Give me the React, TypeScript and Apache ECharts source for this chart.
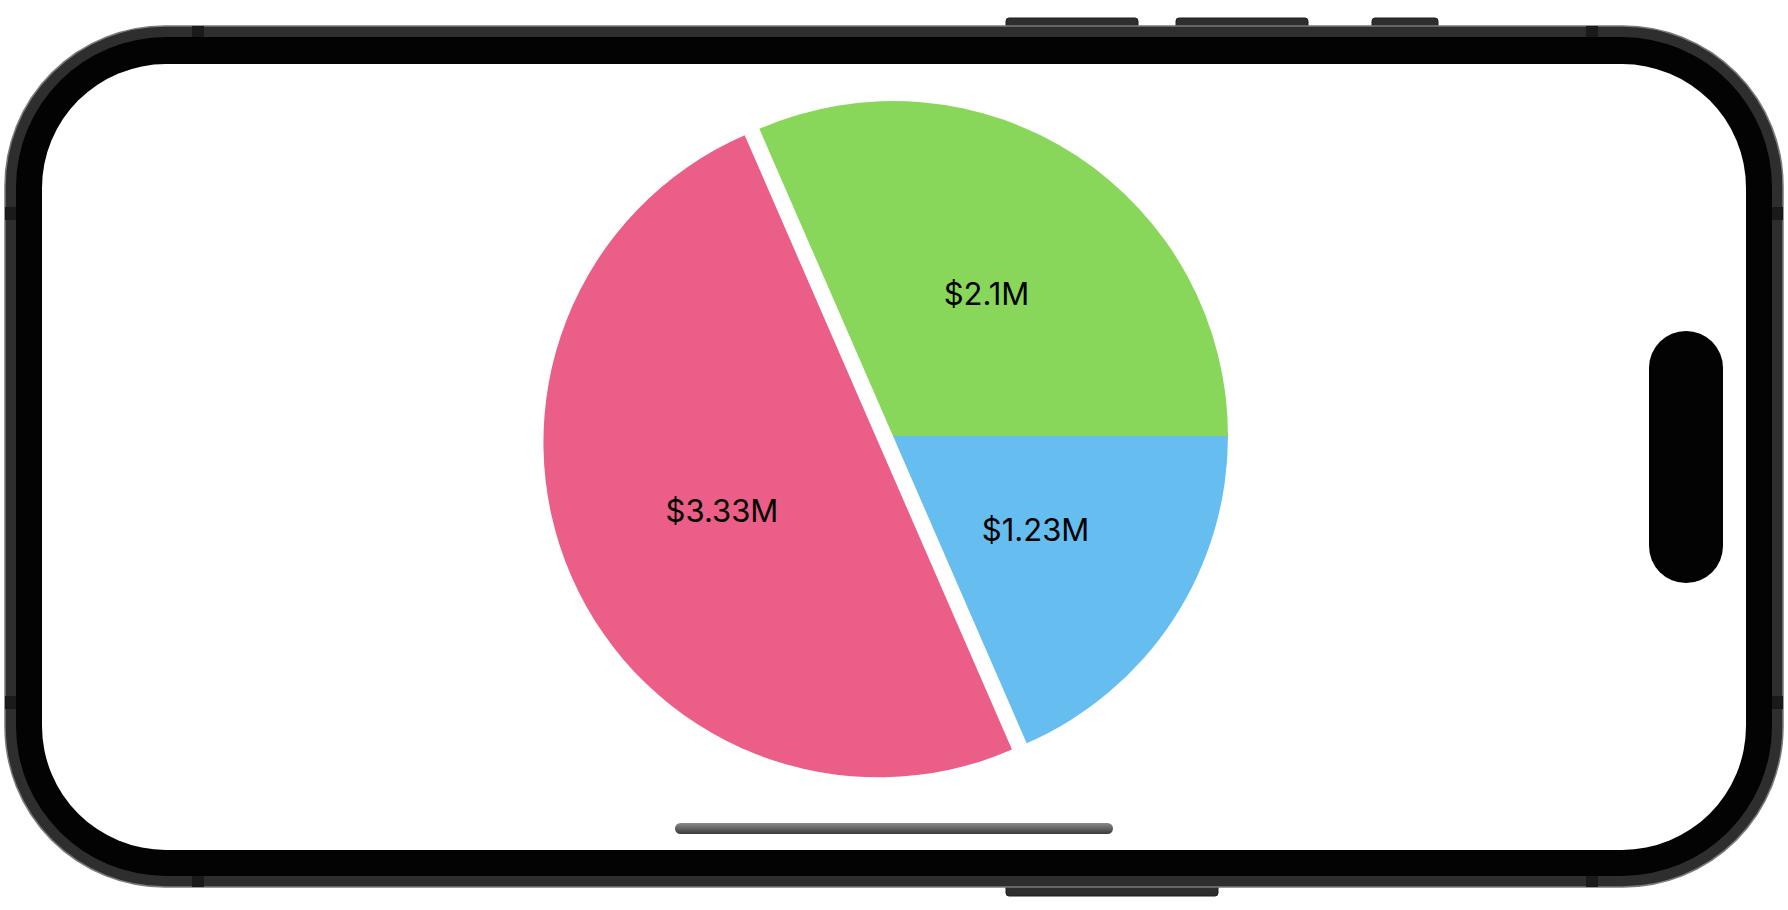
import React, { useEffect, useRef } from "react";
import * as echarts from "echarts";

const categories = ["Green", "Pink", "Blue"];
const values = [2.1, 3.33, 1.23];
const colors = ["#88D75A", "#EB5E87", "#66BDEF"];
const exploded = [false, true, false];

const W = 1788;
const H = 910;

function frameGraphics() {
  const dark = "#2e2e2e";
  const band = "#1a1a1a";
  const els: any[] = [];
  // buttons
  const topButtons = [
    [1006, 1138],
    [1176, 1308],
    [1372, 1438],
  ];
  topButtons.forEach(([a, b]) =>
    els.push({ type: "rect", z: 0, shape: { x: a, y: 18, width: b - a, height: 10, r: [3, 3, 0, 0] }, style: { fill: dark, stroke: "#1f1f1f", lineWidth: 1 } })
  );
  els.push({ type: "rect", z: 0, shape: { x: 1006, y: 884, width: 212, height: 12, r: [0, 0, 3, 3] }, style: { fill: dark, stroke: "#1f1f1f", lineWidth: 1 } });
  // outer body
  els.push({ type: "rect", z: 1, shape: { x: 5, y: 26, width: 1778, height: 861, r: 160 }, style: { fill: dark, stroke: "#7a7a7a", lineWidth: 1.5 } });
  // antenna bands
  const bands = [
    [192, 26, 12, 11],
    [1586, 26, 12, 11],
    [192, 876, 12, 11],
    [1586, 876, 12, 11],
    [5, 207, 11, 13],
    [5, 696, 11, 13],
    [1772, 207, 11, 13],
    [1772, 696, 11, 13],
  ];
  bands.forEach(([x, y, w, h]) => els.push({ type: "rect", z: 2, shape: { x, y, width: w, height: h }, style: { fill: band } }));
  // bezel
  els.push({ type: "rect", z: 3, shape: { x: 16, y: 37, width: 1756, height: 839, r: 150 }, style: { fill: "#030303" } });
  // screen
  els.push({ type: "rect", z: 4, shape: { x: 42, y: 64, width: 1704, height: 786, r: 124 }, style: { fill: "#ffffff" } });
  // dynamic island
  els.push({ type: "rect", z: 5, shape: { x: 1649, y: 331, width: 74, height: 252, r: 37 }, style: { fill: "#030303" } });
  // home indicator
  els.push({
    type: "rect",
    z: 5,
    shape: { x: 675, y: 823, width: 438, height: 11, r: 5.5 },
    style: {
      fill: new echarts.graphic.LinearGradient(0, 0, 0, 1, [
        { offset: 0, color: "#8a8a8a" },
        { offset: 0.4, color: "#6a6a6a" },
        { offset: 1, color: "#3a3a3a" },
      ]),
    },
  });
  return els;
}

export default function App() {
  const ref = useRef<HTMLDivElement>(null);
  useEffect(() => {
    document.body.style.margin = "0";
    const chart = echarts.init(ref.current!, null, { renderer: "svg", width: W, height: H });
    const data = categories.map((name, i) => ({
      name,
      value: values[i],
      selected: exploded[i],
      itemStyle: { color: colors[i] },
      select: { itemStyle: { color: colors[i] } },
    }));
    chart.setOption({
      animation: false,
      backgroundColor: "#ffffff",
      graphic: { elements: frameGraphics() },
      series: [
        {
          type: "pie",
          z: 10,
          center: [893, 436],
          radius: 335,
          startAngle: 0,
          clockwise: false,
          selectedMode: "single",
          selectedOffset: 16,
          avoidLabelOverlap: false,
          emphasis: { disabled: true },
          label: {
            show: true,
            position: "inside",
            formatter: (p: any) => "$" + p.value + "M",
            fontSize: 31,
            fontFamily: "Inter",
            color: "#000000",
          },
          labelLine: { show: false },
          data,
        },
      ],
    });
    return () => chart.dispose();
  }, []);
  return <div ref={ref} style={{ width: W, height: H }} />;
}
